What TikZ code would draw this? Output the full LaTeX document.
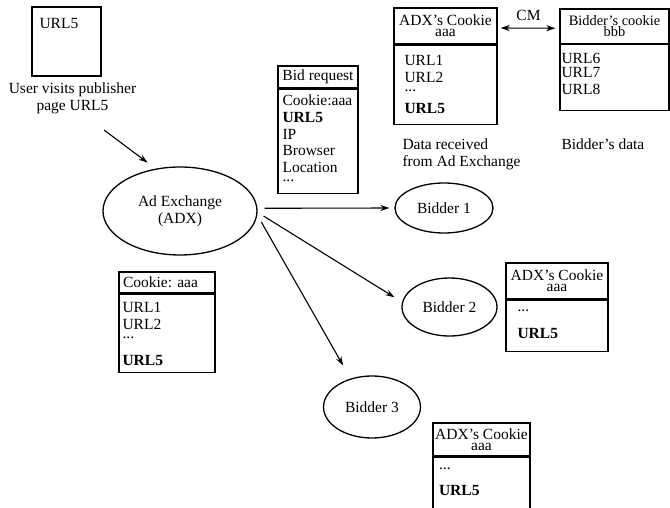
\documentclass[tikz,border=0pt]{standalone}
\usepackage{fontspec}
\setmainfont{Liberation Serif}
\usetikzlibrary{positioning,shapes.geometric,arrows.meta}

\begin{document}
\begin{tikzpicture}[x=1pt, y=-1pt,
    font=\fontsize{15.5}{16.7}\selectfont,
    box/.style={draw, line width=1.3pt, inner sep=0pt},
    head/.style={box, align=center},
    list/.style={inner sep=0pt, align=left},
    bubble/.style={draw, ellipse, line width=1.3pt, inner sep=0pt, align=center},
    arr/.style={-{Stealth[length=9pt,width=6pt]}, line width=1.1pt},
    arrs/.style={{Stealth[length=9pt,width=6pt]}-{Stealth[length=9pt,width=6pt]}, line width=1.1pt}]
\useasboundingbox (0,0) rectangle (670,508);

\node[box, minimum width=69pt, minimum height=69pt] (page) at (66.5,41.5) {};
\node[list, below right=10.6pt and 8pt of page.north west] (pageurl) {\strut URL5};
\node[align=center] (visit) at (72.5,98.5) {User visits publisher\\page URL5};
\coordinate (visitend) at (104,130);

\node[bubble, minimum width=154pt, minimum height=88pt] (adx) at (180,211) {Ad Exchange\\(ADX)};

\node[head, minimum width=80pt, minimum height=22pt] (bidhead) at (318,77) {Bid request};
\node[box, minimum width=80pt, minimum height=104pt, below=0pt of bidhead] (bidbody) {};
\node[list, below right=5.3pt and 5pt of bidbody.north west] (bidlist)
    {\strut Cookie:aaa\\\textbf{URL5}\\IP\\Browser\\Location\\[-8pt]...};

\node[head, minimum width=103pt, minimum height=36pt] (adxhead) at (445.5,26) {ADX's Cookie\\[-6pt]aaa};
\node[box, minimum width=103pt, minimum height=79pt, below=0pt of adxhead] (adxbody) {};
\node[list, below right=9.3pt and 11pt of adxbody.north west] (adxlist)
    {\strut URL1\\URL2\\[-8.2pt]...\\[5.8pt]\textbf{URL5}};
\node[list, below right=13.4pt and 9pt of adxbody.south west] (adxnote) {Data received\\from Ad Exchange};

\node[head, minimum width=109pt, minimum height=34.5pt, font=\fontsize{14.4}{16.7}\selectfont] (bidderhead) at (614.5,26.25) {Bidder's cookie\\[-5.5pt]bbb};
\node[box, minimum width=109pt, minimum height=65.5pt, below=0pt of bidderhead] (bidderbody) {};
\node[list, below right=7.8pt and 2pt of bidderbody.north west] (bidderlist)
    {\strut URL6\\[-2.7pt]URL7\\URL8};
\node[list, below right=27.4pt and 2pt of bidderbody.south west] (biddernote) {Bidder's data};

\draw[arrs, shorten <=3pt, shorten >=4pt] ([yshift=-2pt]adxhead.east) -- node[above=3.5pt] (cm) {CM} ([yshift=-2pt]bidderhead.west);

\node[bubble, minimum width=98pt, minimum height=50pt] (b1) at (444,208) {Bidder 1};
\node[bubble, minimum width=95pt, minimum height=58pt] (b2) at (449.5,307) {Bidder 2};
\node[bubble, minimum width=97pt, minimum height=62pt] (b3) at (372,407) {Bidder 3};

\node[head, align=left, text width=88pt, inner xsep=4pt, minimum height=21pt] (cookiehead) at (167,282.5) {Cookie:\ aaa};
\node[box, minimum width=96pt, minimum height=78pt, below=0pt of cookiehead] (cookiebody) {};
\node[list, below right=7.3pt and 4pt of cookiebody.north west] (cookielist)
    {\strut URL1\\URL2\\[-7.5pt]...\\[10.1pt]\textbf{URL5}};

\node[head, minimum width=102pt, minimum height=36pt] (midhead) at (557,281) {ADX's Cookie\\[-6pt]aaa};
\node[box, minimum width=102pt, minimum height=51pt, below=0pt of midhead] (midbody) {};
\node[list, below right=0.3pt and 12pt of midbody.north west] (midlist) {\strut...\\[10.3pt]\textbf{URL5}};

\node[head, minimum width=97pt, minimum height=33pt] (lowhead) at (481.5,439.5) {ADX's Cookie\\[-6pt]aaa};
\node[box, minimum width=97pt, minimum height=51pt, below=0pt of lowhead] (lowbody) {};
\node[list, below right=1.3pt and 6.5pt of lowbody.north west] (lowlist) {\strut...\\[9.3pt]\textbf{URL5}};

\draw[arr, shorten >=10pt] (visitend) -- (adx.120);
\draw[arr, shorten <=7pt, shorten >=5pt] (adx.2) -- (b1.west);
\draw[arr, shorten <=7pt, shorten >=9pt] (adx.-1) -- (b2.174);
\draw[arr, shorten <=8pt, shorten >=15pt] (adx.-3) -- (b3.127);
\end{tikzpicture}
\end{document}
